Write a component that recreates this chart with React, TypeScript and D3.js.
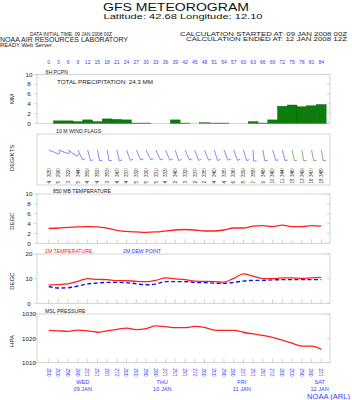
import React from "react";
import * as d3 from "d3";

const hours = d3.range(0, 85, 3);
const precip = [0, 0.5, 0.5, 0.35, 0.7, 0.35, 0.9, 0.8, 0.7, 0.05, 0.05, 0, 0, 0.7, 0.05, 0, 0.2, 0.05, 0.05, 0, 0, 0.35, 0.05, 0.7, 3.5, 3.75, 3.4, 3.6, 3.85];
const windDir = [292, 290, 305, 335, 345, 348, 350, 347, 340, 336, 334, 335, 337, 342, 336, 340, 338, 342, 338, 340, 343, 358, 350, 343, 346, 348, 350, 349, 350];
const windLabel = ["305", "296", "322", "344", "350", "352", "353", "347", "337", "332", "330", "331", "333", "340", "332", "337", "335", "340", "335", "336", "339", "358", "348", "340", "344", "346", "349", "347", "348"];
const windSpd = ["4", "5", "3", "5", "4", "4", "3", "4", "4", "5", "5", "5", "4", "2", "3", "2", "2", "4", "4", "6", "8", "7", "9", "10", "11", "15", "13", "16", "18"];
const t850 = [3.0, 3.1, 3.25, 3.35, 3.4, 3.35, 3.1, 2.6, 2.4, 2.3, 2.2, 2.3, 2.5, 2.7, 2.8, 2.7, 2.5, 2.5, 2.7, 3.1, 3.1, 3.5, 3.6, 3.4, 3.7, 3.4, 3.4, 3.6, 3.5];
const t2m = [7.5, 7.6, 7.9, 8.9, 10.0, 9.7, 9.6, 9.2, 9.2, 8.9, 8.8, 9.3, 10.3, 9.9, 9.6, 9.0, 8.9, 8.8, 8.6, 10.1, 11.9, 11.0, 10.0, 10.0, 10.3, 10.3, 10.1, 10.3, 10.5];
const td2m = [6.8, 6.2, 6.3, 7.0, 7.9, 8.2, 8.5, 8.5, 8.4, 7.9, 7.5, 7.8, 8.8, 8.8, 8.8, 8.5, 8.4, 8.2, 8.1, 8.5, 9.0, 9.3, 9.3, 9.5, 9.6, 9.6, 9.6, 9.6, 9.6];
const mslp = [1023.3, 1023.1, 1022.9, 1023.4, 1023.1, 1022.5, 1023.1, 1023.7, 1024.2, 1023.6, 1024.0, 1025.1, 1024.8, 1024.4, 1024.4, 1024.9, 1024.5, 1023.4, 1023.3, 1023.3, 1022.5, 1021.8, 1021.2, 1020.4, 1019.3, 1018.0, 1016.8, 1016.8, 1015.5];
const timeLabels = ["00Z", "03Z", "06Z", "09Z", "12Z", "15Z", "18Z", "21Z"];
const days = [
  { hour: 10.5, day: "WED", date: "09 JAN" },
  { hour: 35, day: "THU", date: "10 JAN" },
  { hour: 59.5, day: "FRI", date: "11 JAN" },
  { hour: 83.5, day: "SAT", date: "12 JAN" },
];

const FONT = "'Liberation Sans', Arial, sans-serif";
const BLUE = "#3a3aff";
const GRID = "#c8c8c8";
const X0 = 37, X1 = 330;

const x = d3.scaleLinear().domain([0, 84]).range([48.7, 321.3]);

function Frame({ top, bottom, ticks = true }: { top: number; bottom: number; ticks?: boolean }) {
  return (
    <g>
      <rect x={X0} y={top} width={X1 - X0} height={bottom - top} fill="none" stroke={GRID} strokeWidth={0.8} />
      {ticks && hours.map((h) => (
        <line key={h} x1={x(h)} x2={x(h)} y1={bottom} y2={bottom - 4} stroke={GRID} strokeWidth={0.8} />
      ))}
    </g>
  );
}

function YAxis({ scale, values }: { scale: d3.ScaleLinear<number, number>; values: number[] }) {
  return (
    <g>
      {values.map((v) => (
        <g key={v}>
          <line x1={X0 - 3} x2={X0} y1={scale(v)} y2={scale(v)} stroke={GRID} strokeWidth={0.8} />
          <line x1={X1} x2={X1 - 3} y1={scale(v)} y2={scale(v)} stroke={GRID} strokeWidth={0.8} />
          <text x={29} y={scale(v) + 2.2} fontSize={6.2} textAnchor="middle" fill="#222">{v}</text>
        </g>
      ))}
    </g>
  );
}

function YTitle({ text, cy }: { text: string; cy: number }) {
  return (
    <text transform={`translate(14,${cy}) rotate(-90)`} fontSize={6} textAnchor="middle" fill="#222">{text}</text>
  );
}

export default function App() {
  const yP = d3.scaleLinear().domain([0, 10]).range([123.3, 74.5]);
  const y850 = d3.scaleLinear().domain([0, 10]).range([243.3, 194]);
  const y2m = d3.scaleLinear().domain([0, 20]).range([303.3, 254]);
  const yMs = d3.scaleLinear().domain([1010, 1030]).range([362.7, 314]);
  const line = (ys: d3.ScaleLinear<number, number>, vals: number[]) =>
    d3.line<number>().x((_, i) => x(hours[i])).y((v) => ys(v)).curve(d3.curveMonotoneX)(vals) || "";
  const bw = x(3) - x(0);

  return (
    <svg width={352} height={400} style={{ position: "absolute", left: 0, top: 0, background: "#fff" }} fontFamily={FONT}>
      <rect width={352} height={400} fill="#fff" />
      {/* header */}
      <text x={176} y={11} fontSize={10.5} textAnchor="middle" textLength={146} lengthAdjust="spacingAndGlyphs" fill="#111">GFS METEOROGRAM</text>
      <text x={183} y={19} fontSize={8} textAnchor="middle" textLength={159} lengthAdjust="spacingAndGlyphs" fill="#111">Latitude: 42.68 Longitude:  12.10</text>
      <text x={30} y={36} fontSize={4.6} textLength={82} lengthAdjust="spacingAndGlyphs" fill="#222">DATA INITIAL TIME: 09 JAN 2008 00Z</text>
      <text x={0} y={42} fontSize={6.6} textLength={128} lengthAdjust="spacingAndGlyphs" fill="#222">NOAA AIR RESOURCES LABORATORY</text>
      <text x={0} y={46.8} fontSize={4.6} textLength={52} lengthAdjust="spacingAndGlyphs" fill="#222">READY Web Server</text>
      <text x={180} y={36} fontSize={4.8} textLength={167} lengthAdjust="spacingAndGlyphs" fill="#222">CALCULATION STARTED AT: 09 JAN 2008 00Z</text>
      <text x={186} y={41.2} fontSize={4.8} textLength={161} lengthAdjust="spacingAndGlyphs" fill="#222">CALCULATION ENDED AT: 12 JAN 2008 12Z</text>

      {/* top hour numbers */}
      {hours.map((h) => (
        <text key={h} x={x(h)} y={63.8} fontSize={5} textAnchor="middle" fill={BLUE}>{h}</text>
      ))}

      {/* precipitation */}
      <Frame top={74.5} bottom={123.3} ticks={false} />
      <YAxis scale={yP} values={[0, 2, 4, 6, 8, 10]} />
      <YTitle text="MM" cy={99} />
      <text x={45.5} y={74} fontSize={5.2} fill="#222">6H PCPN</text>
      <text x={57} y={84.3} fontSize={5.4} textLength={96} lengthAdjust="spacingAndGlyphs" fill="#222">TOTAL PRECIPITATION:  24.3 MM</text>
      {hours.map((h, i) => precip[i] > 0 ? (
        <rect key={h} x={x(h) - bw / 2} y={yP(precip[i])} width={bw} height={yP(0) - yP(precip[i])}
          fill={i === 16 ? "#8fc88f" : "#0a7d0a"} stroke="#0a5a0a" strokeWidth={0.4} />
      ) : null)}

      {/* wind */}
      <Frame top={134} bottom={185} ticks={false} />
      <YTitle text="DEG/KTS" cy={158} />
      <text x={56} y={133.3} fontSize={5.2} fill="#222">10 M  WIND FLAGS</text>
      {hours.map((h, i) => {
        const rad = ((windDir[i] + 180) * Math.PI) / 180;
        const L = 11;
        const x1 = x(h), y1 = 150;
        const x2 = x1 + L * Math.sin(rad), y2 = y1 - L * Math.cos(rad);
        const col = +windSpd[i] > 12 ? "#5aaa5a" : "#6a6aff";
        const fr = rad - Math.PI / 2;
        return (
          <g key={h}>
            <line x1={x1} y1={y1} x2={x2} y2={y2} stroke={col} strokeWidth={0.8} />
            <line x1={x2} y1={y2} x2={x2 + 3 * Math.sin(fr)} y2={y2 - 3 * Math.cos(fr)} stroke={col} strokeWidth={0.8} />
            <text transform={`translate(${x1 + 1.8},${177}) rotate(-90)`} fontSize={4.6} fill="#222">{windLabel[i]}/</text>
            <text transform={`translate(${x1 + 1.8},${183.5}) rotate(-90)`} fontSize={4.6} fill="#222">{windSpd[i]}</text>
          </g>
        );
      })}

      {/* 850 temp */}
      <Frame top={194} bottom={243.3} />
      <YAxis scale={y850} values={[0, 2, 4, 6, 8, 10]} />
      <YTitle text="DEGC" cy={221} />
      <text x={53} y={193} fontSize={5.2} fill="#222">850 MB  TEMPERATURE</text>
      <path d={line(y850, t850)} fill="none" stroke="#ff2020" strokeWidth={1.3} />

      {/* 2m temp */}
      <Frame top={254} bottom={303.3} />
      <YAxis scale={y2m} values={[0, 10, 20]} />
      <YTitle text="DEGC" cy={281} />
      <text x={45} y={253} fontSize={5.2} fill="#ff2020">2M TEMPERATURE</text>
      <text x={123} y={253} fontSize={5.2} fill="#3030ff">2M  DEW POINT</text>
      <path d={line(y2m, td2m)} fill="none" stroke="#1010ee" strokeWidth={1.4} strokeDasharray="4,2.5" />
      <path d={line(y2m, t2m)} fill="none" stroke="#ff2020" strokeWidth={1.3} />

      {/* MSL */}
      <Frame top={314} bottom={362.7} />
      <YAxis scale={yMs} values={[1010, 1020, 1030]} />
      <YTitle text="HPA" cy={341} />
      <text x={45} y={313} fontSize={5.2} fill="#222">MSL PRESSURE</text>
      <path d={line(yMs, mslp)} fill="none" stroke="#ff2020" strokeWidth={1.3} />

      {/* time labels */}
      {hours.map((h, i) => (
        <text key={h} transform={`translate(${x(h) + 1.8},${376.5}) rotate(-90)`} fontSize={4.8} fill={BLUE}>{timeLabels[i % 8]}</text>
      ))}
      {days.map((d) => (
        <g key={d.day}>
          <text x={x(d.hour)} y={383.5} fontSize={5.6} textAnchor="middle" fill={BLUE}>{d.day}</text>
          <text x={x(d.hour)} y={391} fontSize={5.6} textAnchor="middle" fill={BLUE}>{d.date}</text>
        </g>
      ))}
      <text x={307} y={398.5} fontSize={7.6} textLength={43} lengthAdjust="spacingAndGlyphs" fill={BLUE}>NOAA (ARL)</text>
    </svg>
  );
}
